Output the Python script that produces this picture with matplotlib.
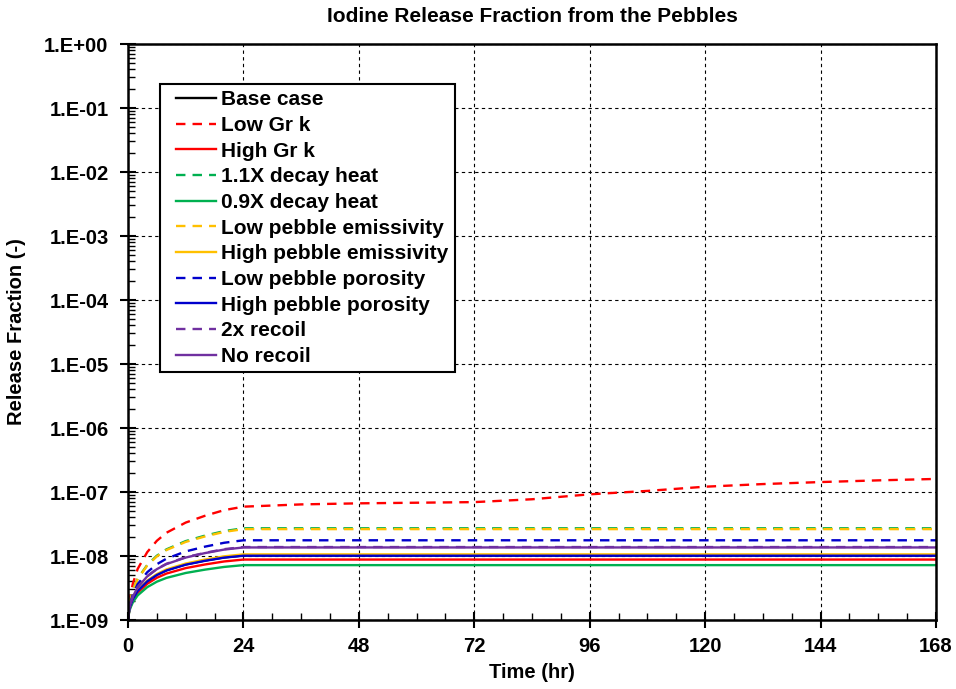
import numpy as np
import matplotlib
matplotlib.use("Agg")
from matplotlib import pyplot as plt
from matplotlib.lines import Line2D
from matplotlib.legend_handler import HandlerLine2D
from matplotlib.ticker import FixedLocator, FuncFormatter, LogLocator, NullFormatter

# time grids (hr)
t_short = [0, 0.25, 0.5, 1, 2, 4, 6, 8, 12, 16, 20, 24, 168]
t_long = [0, 0.25, 0.5, 1, 2, 4, 6, 8, 12, 16, 20, 24, 36, 48, 60, 72, 84, 96,
          108, 120, 132, 144, 156, 168]

# release fractions in units of 1e-9
base_case = [1.0, 1.42, 1.67, 2.1, 2.85, 4.0, 5.1, 6.0, 7.4, 8.5, 9.5, 10.2, 10.2]
low_gr_k = [1.0, 1.84, 2.45, 3.68, 6.26, 11.5, 17.3, 23.1, 33.3, 42.5, 52.1, 59.0,
            64.0, 66.5, 68.0, 69.5, 77.0, 92.0, 104.0, 121.0, 133.0, 143.0, 152.0, 160.0]
high_gr_k = [1.0, 1.39, 1.61, 2.0, 2.66, 3.68, 4.57, 5.32, 6.47, 7.37, 8.22, 8.8, 8.8]
heat_11 = [1.0, 1.64, 2.07, 2.87, 4.42, 7.24, 10.1, 12.7, 17.1, 20.8, 24.5, 27.1, 27.1]
heat_09 = [1.0, 1.34, 1.54, 1.88, 2.42, 3.26, 3.97, 4.55, 5.43, 6.12, 6.75, 7.2, 7.2]
low_emis = [1.0, 1.63, 2.05, 2.85, 4.36, 7.11, 9.86, 12.4, 16.6, 20.2, 23.8, 26.3, 26.3]
high_emis = [1.0, 1.43, 1.68, 2.13, 2.9, 4.13, 5.22, 6.17, 7.63, 8.79, 9.89, 10.6, 10.6]
low_por = [1.0, 1.54, 1.88, 2.5, 3.63, 5.58, 7.44, 9.09, 11.8, 14.0, 16.1, 17.6, 17.6]
high_por = [1.0, 1.42, 1.66, 2.1, 2.83, 4.01, 5.05, 5.94, 7.32, 8.41, 9.44, 10.1, 10.1]
recoil_2x = [1.0, 1.49, 1.79, 2.33, 3.27, 4.85, 6.3, 7.56, 9.57, 11.2, 12.8, 13.8, 13.8]
no_recoil = [1.0, 1.48, 1.78, 2.31, 3.24, 4.8, 6.23, 7.48, 9.46, 11.1, 12.6, 13.6, 13.6]

x_ticks = [0, 24, 48, 72, 96, 120, 144, 168]

plt.rcParams['font.family'] = ['Liberation Sans', 'DejaVu Sans']
plt.rcParams['font.weight'] = 'bold'

fig = plt.figure(figsize=(9.56, 6.89), dpi=100)
ax = fig.add_axes([128/956, 1-620/689, (936-128)/956, (620-44)/689])

series = [
    ("Base case", t_short, base_case, "#000000", "-"),
    ("Low Gr k", t_long, low_gr_k, "#FF0000", "--"),
    ("High Gr k", t_short, high_gr_k, "#FF0000", "-"),
    ("1.1X decay heat", t_short, heat_11, "#00B050", "--"),
    ("0.9X decay heat", t_short, heat_09, "#00B050", "-"),
    ("Low pebble emissivity", t_short, low_emis, "#FFC000", "--"),
    ("High pebble emissivity", t_short, high_emis, "#FFC000", "-"),
    ("Low pebble porosity", t_short, low_por, "#0000CC", "--"),
    ("High pebble porosity", t_short, high_por, "#0000CC", "-"),
    ("2x recoil", t_short, recoil_2x, "#7030A0", "--"),
    ("No recoil", t_short, no_recoil, "#7030A0", "-"),
]

for name, t, v, c, ls in series:
    ax.plot(t, np.array(v) * 1e-9, color=c, linestyle=ls, linewidth=1.7,
            dashes=(4, 3) if ls == "--" else (None, None), label=name)

ax.set_yscale('log')
ax.set_xlim(0, 168)
ax.set_ylim(1e-9, 1.0)
ax.xaxis.set_major_locator(FixedLocator(x_ticks))
ax.xaxis.set_minor_locator(FixedLocator(np.arange(0, 169, 6)))
ax.yaxis.set_major_locator(LogLocator(base=10, numticks=20))
ax.yaxis.set_minor_locator(LogLocator(base=10, subs=np.arange(2, 10), numticks=20))
ax.yaxis.set_minor_formatter(NullFormatter())
ax.yaxis.set_major_formatter(FuncFormatter(lambda y, p: "1.E%+03d" % int(round(np.log10(y)))))

ax.grid(True, which='major', color='black', linestyle=(0, (3, 3)), linewidth=0.8)
ax.tick_params(which='major', direction='inout', length=12, width=1.5, labelsize=14.5, pad=6)
ax.tick_params(axis='y', which='major', pad=8)
ax.tick_params(which='minor', direction='in', length=5, width=1)
for sp in ax.spines.values():
    sp.set_linewidth(1.8)
for lab in ax.get_xticklabels() + ax.get_yticklabels():
    lab.set_fontweight('bold')

ax.set_title("Iodine Release Fraction from the Pebbles", fontsize=15, fontweight='bold', pad=16)
ax.set_xlabel("Time (hr)", fontsize=14.5, fontweight='bold')
ax.set_ylabel("Release Fraction (-)", fontsize=14.5, fontweight='bold')
ax.xaxis.set_label_coords(0.5, -0.074)
ax.yaxis.set_label_coords(-0.126, 0.5)

leg = ax.legend(loc='upper left', bbox_to_anchor=(0.0396, 0.9306), borderaxespad=0,
                fontsize=15, frameon=True, fancybox=False, edgecolor='black',
                handlelength=2.4, handletextpad=0.25, labelspacing=0.32,
                borderpad=0.3, framealpha=1,
                handler_map={Line2D: HandlerLine2D(xpad=0.45)})
leg.get_frame().set_linewidth(1.5)
for txt in leg.get_texts():
    txt.set_fontweight('bold')

fig.savefig("out.png", dpi=100)
